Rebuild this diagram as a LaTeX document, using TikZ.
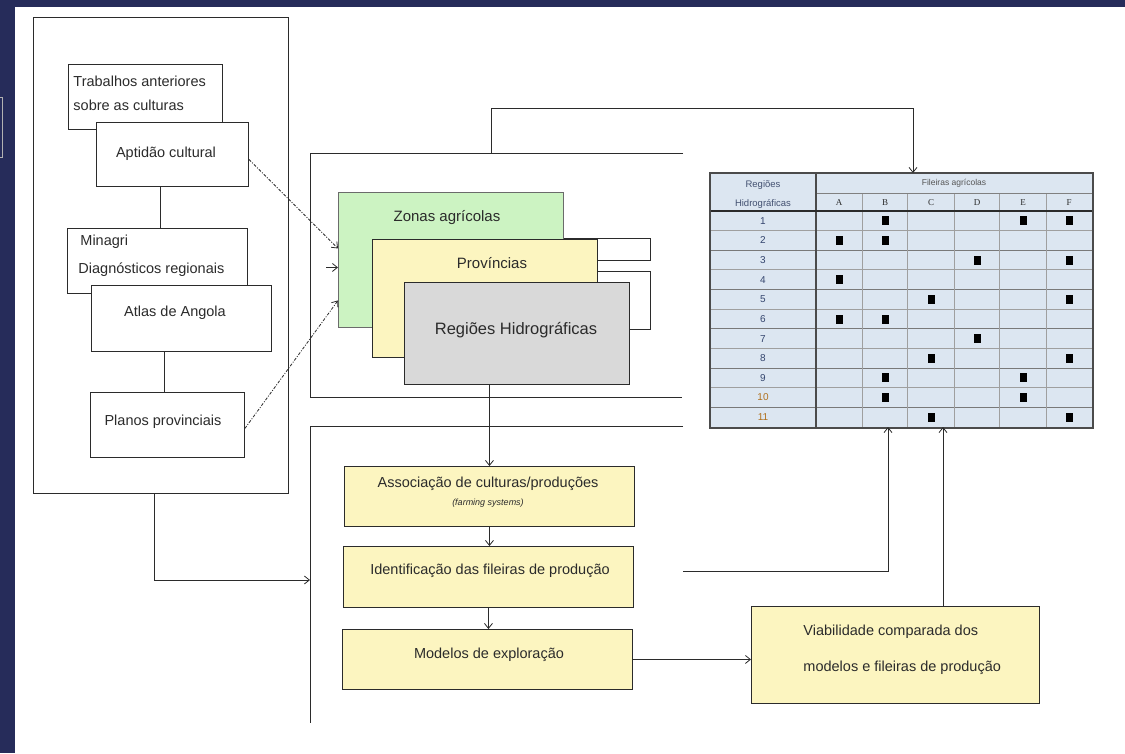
\documentclass[tikz,border=0pt]{standalone}
\usepackage{fontspec}
\setmainfont{Liberation Sans}
\newfontfamily\serifsmall{Liberation Serif}
\usetikzlibrary{arrows.meta}
\definecolor{navy}{HTML}{262C5A}
\definecolor{lgreen}{HTML}{CCF3C2}
\definecolor{lyellow}{HTML}{FCF5C0}
\definecolor{lgrey}{HTML}{D9D9D9}
\definecolor{tblue}{HTML}{DCE6F1}
\definecolor{ink}{HTML}{2B2B2B}
\definecolor{numblue}{HTML}{34456E}
\definecolor{numorange}{HTML}{B0701E}
\begin{document}
\begin{tikzpicture}[x=1pt,y=-1pt,line width=0.9pt,
  box/.style={draw=ink,fill=white,anchor=north west,inner sep=0pt},
  txt/.style={text=ink,inner sep=0pt,font=\fontsize{14.5}{16}\selectfont},
  small/.style={text=ink,inner sep=0pt,font=\fontsize{9.5}{11}\selectfont},
  arr/.style={-{Straight Barb[length=5pt,width=8pt]},draw=ink,line width=0.8pt},
  dasharr/.style={arr,dash pattern=on 3pt off 1.5pt on 1pt off 1.5pt},
  grid/.style={draw=gray!75,line width=1pt}]
\useasboundingbox (0,0) rectangle (1125,753);
% background
\fill[white] (0,0) rectangle (1125,753);
\fill[navy] (0,0) rectangle (1125,7);
\fill[navy] (0,0) rectangle (15,753);
\draw[gray!60,line width=0.8pt] (-5,97) rectangle (2,157);

% left group
\node[box,minimum width=255pt,minimum height=476pt] (outerL) at (33,17) {};
\node[box,minimum width=154pt,minimum height=65pt] (trab) at (68,64) {};
\node[txt,anchor=west] (trab1) at (73,81) {Trabalhos anteriores};
\node[txt,anchor=west] (trab2) at (73,105) {sobre as culturas};
\node[box,minimum width=152pt,minimum height=64pt] (apt) at (96,122) {};
\node[txt] (aptt) at (166,154) {Aptidão cultural};
\node[box,minimum width=180pt,minimum height=65pt] (minagri) at (67,228) {};
\node[txt,anchor=west] (min1) at (80,242) {Minagri};
\node[txt,anchor=west] (min2) at (78,270) {Diagnósticos regionais};
\node[box,minimum width=180pt,minimum height=66pt] (atlas) at (91,285) {};
\node[txt] (atlast) at (175,313) {Atlas de Angola};
\node[box,minimum width=154pt,minimum height=65pt] (planos) at (90,392) {};
\node[txt] (planost) at (163,422) {Planos provinciais};
\draw[draw=ink] ([xshift=-12pt]apt.south) -- ([xshift=-12pt]apt.south |- minagri.north);
\draw[draw=ink] ([xshift=-3pt]planos.north) -- ([xshift=-3pt]planos.north |- atlas.south);

% upper middle container
\coordinate (uptop) at (491,153);
\draw[draw=ink] (683,153) -- (310,153) -- (310,397) -- (682,397);
\node[box,fill=lgreen,draw=ink!70,minimum width=225pt,minimum height=135pt] (green) at (338,192) {};
\node[txt,font=\fontsize{15}{17}\selectfont] (greent) at (447,218) {Zonas agrícolas};
\node[box,fill=lyellow,minimum width=225pt,minimum height=118pt] (yellow) at (372,239) {};
\node[txt,font=\fontsize{15}{17}\selectfont] (yellowt) at (492,263) {Províncias};
\node[box,fill=lgrey,minimum width=225pt,minimum height=102pt] (grey) at (404,282) {};
\node[txt,font=\fontsize{16.5}{19}\selectfont] (greyt) at (516,330) {Regiões Hidrográficas};
\draw[draw=ink] ([yshift=-46pt]green.north east) -- ++(87,0) |- ([yshift=-21pt]yellow.north east);
\draw[draw=ink] ([yshift=-32pt]yellow.north east) -- ++(53,0) |- ([yshift=-47pt]grey.north east);

% arrows into green
\draw[dasharr] ([yshift=-5pt]apt.east) -- ([yshift=11.5pt]green.west);
\draw[arr] ([xshift=-12pt,yshift=-7.5pt]green.west) -- ([yshift=-7.5pt]green.west);
\draw[dasharr] ([yshift=-3.5pt]planos.east) -- ([yshift=-40.5pt]green.west);

% lower middle container
\coordinate (lowin) at (310,580);
\draw[draw=ink] (683,426) -- (310,426) -- (310,723);
\draw[arr] ([xshift=-6.5pt]outerL.south) |- (lowin);
\node[box,fill=lyellow,minimum width=290pt,minimum height=60pt] (assoc) at (344,466) {};
\node[txt] (assoct) at (488,484) {Associação de culturas/produções};
\node[txt,font=\fontsize{9}{10}\selectfont\itshape] (assoct2) at (488,503) {(farming systems)};
\node[box,fill=lyellow,minimum width=290pt,minimum height=61pt] (ident) at (343,546) {};
\node[txt] (identt) at (490,571) {Identificação das fileiras de produção};
\node[box,fill=lyellow,minimum width=290pt,minimum height=60pt] (model) at (342,629) {};
\node[txt] (modelt) at (489,655) {Modelos de exploração};
\node[box,fill=lyellow,minimum width=288pt,minimum height=97pt] (viab) at (751,606) {};
\node[txt,anchor=west] (viab1) at (803,632) {Viabilidade comparada dos};
\node[txt,anchor=west] (viab2) at (803,668) {modelos e fileiras de produção};

\draw[arr] (grey.south -| assoc.north) -- (assoc.north);
\draw[arr] (assoc.south) -- (assoc.south |- ident.north);
\draw[arr] (ident.south) -- (ident.south |- model.north);
\draw[arr] (model.east) -- (model.east -| viab.west);

% table
\node[anchor=north west,inner sep=0pt,fill=tblue,minimum width=382pt,minimum height=254pt] (tbl) at (710,173) {};
\coordinate (tin1) at (913,173);
\coordinate (tin2) at (888,427);
\coordinate (tin3) at (943,427);
\foreach \k in {1,...,10}{
  \pgfmathsetmacro{\yy}{211+19.636*\k}
  \ifodd\k \draw[grid] (710,\yy) -- (1092,\yy); \else \draw[grid,draw=gray!95!black] (710,\yy) -- (1092,\yy); \fi
}
\foreach \xx in {862,907,954,999,1046}{ \draw[grid] (\xx,193) -- (\xx,427); }
\draw[grid,draw=gray] (816,193) -- (1092,193);
\draw[draw=ink!85,line width=1.1pt] (816,173) -- (816,427);
\draw[draw=ink,line width=1.8pt] (710,211) -- (1092,211);
\draw[draw=ink!85,line width=1.2pt] (tbl.north west) rectangle (tbl.south east);
\node[small,text=numblue!80!gray] (th1) at (763,185) {Regiões};
\node[small,text=numblue!80!gray] (th2) at (763,204) {Hidrográficas};
\node[small,font=\fontsize{8.5}{10}\selectfont,text=ink!80] (th3) at (954,183) {Fileiras agrícolas};
\foreach \l [count=\i] in {A,B,C,D,E,F}{
  \node[small,font=\serifsmall\fontsize{9}{10}\selectfont] (col\i) at ({816+46*(\i-0.5)},203) {\l};
}
\foreach \i in {1,...,11}{
  \ifnum\i>9 \def\nc{numorange}\else\def\nc{numblue}\fi
  \node[small,font=\fontsize{10}{11}\selectfont,text=\nc] (num\i) at (763,{211+19.636*(\i-0.5)}) {\i};
}
\foreach \r/\c in {1/2,1/5,1/6,2/1,2/2,3/4,3/6,4/1,5/3,5/6,6/1,6/2,7/4,8/3,8/6,9/2,9/5,10/2,10/5,11/3,11/6}{
  \fill[black] ({816+46*(\c-0.5)-3.5},{211+19.636*(\r-0.5)-4.5}) rectangle ++(7,9);
}

% connectors to table
\draw[arr] (uptop) -- (491,108) -- (913,108) -- (tin1);
\coordinate (identout) at (683,571);
\draw[arr] (identout) -| (tin2);
\draw[arr] (viab.north -| tin3) -- (tin3);
\end{tikzpicture}
\end{document}
